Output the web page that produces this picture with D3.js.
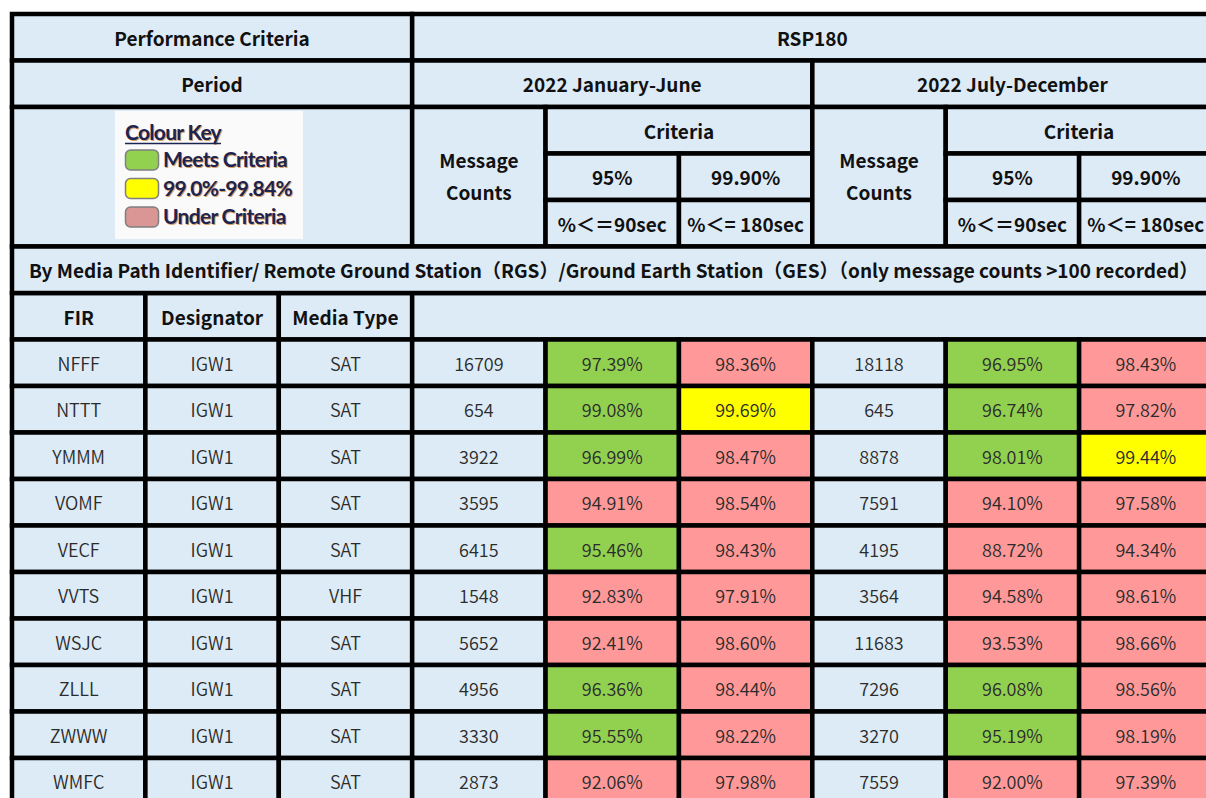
<!DOCTYPE html>
<html>
<head>
<meta charset="utf-8">
<script src="https://cdn.jsdelivr.net/npm/d3@7"></script>
<style>
  body { margin: 0; background: #fff; }
  svg { display: block; }
  text { font-family: "Noto Sans CJK JP", "Noto Sans", sans-serif; }
</style>
</head>
<body>
<svg id="chart" width="1206" height="798"></svg>
<script>
// table data
var firs = ["NFFF", "NTTT", "YMMM", "VOMF", "VECF", "VVTS", "WSJC", "ZLLL", "ZWWW", "WMFC"];
var designators = ["IGW1", "IGW1", "IGW1", "IGW1", "IGW1", "IGW1", "IGW1", "IGW1", "IGW1", "IGW1"];
var mediaTypes = ["SAT", "SAT", "SAT", "SAT", "SAT", "VHF", "SAT", "SAT", "SAT", "SAT"];
var counts1 = [16709, 654, 3922, 3595, 6415, 1548, 5652, 4956, 3330, 2873];
var pct90_1 = [97.39, 99.08, 96.99, 94.91, 95.46, 92.83, 92.41, 96.36, 95.55, 92.06];
var pct180_1 = [98.36, 99.69, 98.47, 98.54, 98.43, 97.91, 98.60, 98.44, 98.22, 97.98];
var counts2 = [18118, 645, 8878, 7591, 4195, 3564, 11683, 7296, 3270, 7559];
var pct90_2 = [96.95, 96.74, 98.01, 94.10, 88.72, 94.58, 93.53, 96.08, 95.19, 92.00];
var pct180_2 = [98.43, 97.82, 99.44, 97.58, 94.34, 98.61, 98.66, 98.56, 98.19, 97.39];

var periods = ["2022 January-June", "2022 July-December"];
var keyLabels = ["Meets Criteria", "99.0%-99.84%", "Under Criteria"];

var blue = "#ddebf7", green = "#92d050", yellow = "#ffff00", pink = "#ff9999";

var svg = d3.select("#chart");

// grid: 9 columns, 17 rows
var x = d3.scaleLinear().domain([0, 9]).range([12, 1212.5]);
var y = d3.scaleLinear().domain([0, 17]).range([14, 804.5]);

function cell(c0, c1, r0, r1, fill) {
    svg.append("rect")
        .attr("x", x(c0)).attr("y", y(r0))
        .attr("width", x(c1) - x(c0)).attr("height", y(r1) - y(r0))
        .attr("fill", fill)
        .attr("stroke", "#000")
        .attr("stroke-width", 4.5);
}

function label(cx, cy, str, bold, anchor) {
    return svg.append("text")
        .attr("x", cx).attr("y", cy)
        .attr("text-anchor", anchor || "middle")
        .attr("dominant-baseline", "central")
        .style("font-size", bold ? "19px" : "18px")
        .style("font-weight", bold ? 700 : 350)
        .attr("fill", bold ? "#111" : "#2b2b2b")
        .text(str);
}

function midX(c0, c1) { return (x(c0) + x(c1)) / 2; }
function midY(r0, r1) { return (y(r0) + y(r1)) / 2; }

function colorFor(v, target) {
    if (v >= target) return green;
    if (target > 99 && v >= 99.0) return yellow;
    return pink;
}

// header cells
var headers = [
    [0, 3, 0, 1, "Performance Criteria"],
    [3, 9, 0, 1, "RSP180"],
    [0, 3, 1, 2, "Period"],
    [3, 6, 1, 2, periods[0]],
    [6, 9, 1, 2, periods[1]],
    [0, 3, 2, 5, ""],
    [0, 1, 6, 7, "FIR"],
    [1, 2, 6, 7, "Designator"],
    [2, 3, 6, 7, "Media Type"],
    [3, 9, 6, 7, ""]
];
[3, 6].forEach(function(c) {
    headers.push([c, c + 1, 2, 5, ""]);
    headers.push([c + 1, c + 3, 2, 3, "Criteria"]);
    headers.push([c + 1, c + 2, 3, 4, "95%"]);
    headers.push([c + 2, c + 3, 3, 4, "99.90%"]);
    headers.push([c + 1, c + 2, 4, 5, "%＜＝90sec"]);
    headers.push([c + 2, c + 3, 4, 5, "%＜= 180sec"]);
});
headers.forEach(function(h) {
    cell(h[0], h[1], h[2], h[3], blue);
    if (h[4]) label(midX(h[0], h[1]), midY(h[2], h[3]), h[4], true);
});

// message counts two-line label
[3, 6].forEach(function(c) {
    label(midX(c, c + 1), midY(2, 5) - 17, "Message", true);
    label(midX(c, c + 1), midY(2, 5) + 15, "Counts", true);
});

// description row
cell(0, 9, 5, 6, blue);
label(x(0) + 17, midY(5, 6),
    "By Media Path Identifier/ Remote Ground Station（RGS）/Ground Earth Station（GES）（only message counts >100 recorded）",
    true, "start");

// data rows
firs.forEach(function(f, i) {
    var r = 7 + i;
    var vals = [
        [f, blue], [designators[i], blue], [mediaTypes[i], blue],
        [counts1[i], blue],
        [pct90_1[i].toFixed(2) + "%", colorFor(pct90_1[i], 95)],
        [pct180_1[i].toFixed(2) + "%", colorFor(pct180_1[i], 99.9)],
        [counts2[i], blue],
        [pct90_2[i].toFixed(2) + "%", colorFor(pct90_2[i], 95)],
        [pct180_2[i].toFixed(2) + "%", colorFor(pct180_2[i], 99.9)]
    ];
    vals.forEach(function(v, c) {
        cell(c, c + 1, r, r + 1, v[1]);
        label(midX(c, c + 1), midY(r, r + 1), v[0], false);
    });
});

// colour key picture
var key = svg.append("g");
key.append("rect").attr("x", 115).attr("y", 111).attr("width", 188).attr("height", 128).attr("fill", "#fafafa");

function keyText(tx, ty, str) {
    var t;
    [["#d9a066", 1, 1], ["#1c2452", 0, 0]].forEach(function(s) {
        t = key.append("text")
            .attr("x", tx + s[1]).attr("y", ty + s[2])
            .style("font-family", "Lato, sans-serif")
            .style("font-size", "21px")
            .style("font-weight", 700)
            .style("letter-spacing", "-0.7px")
            .attr("fill", s[0])
            .text(str);
    });
    return t;
}
var title = keyText(125, 140, "Colour Key");
var tw = title.node().getComputedTextLength();
key.append("line").attr("x1", 125).attr("x2", 125 + tw).attr("y1", 143.5).attr("y2", 143.5)
    .attr("stroke", "#1c2452").attr("stroke-width", 1.5);

var swatchColors = [green, yellow, "#d99694"];
keyLabels.forEach(function(k, i) {
    var sy = 150 + i * 28.5;
    key.append("rect").attr("x", 125.5).attr("y", sy).attr("width", 33).attr("height", 20)
        .attr("rx", 5).attr("fill", swatchColors[i]).attr("stroke", "#7f7f7f").attr("stroke-width", 1.5);
    keyText(163, sy + 17, k);
});
</script>
</body>
</html>
